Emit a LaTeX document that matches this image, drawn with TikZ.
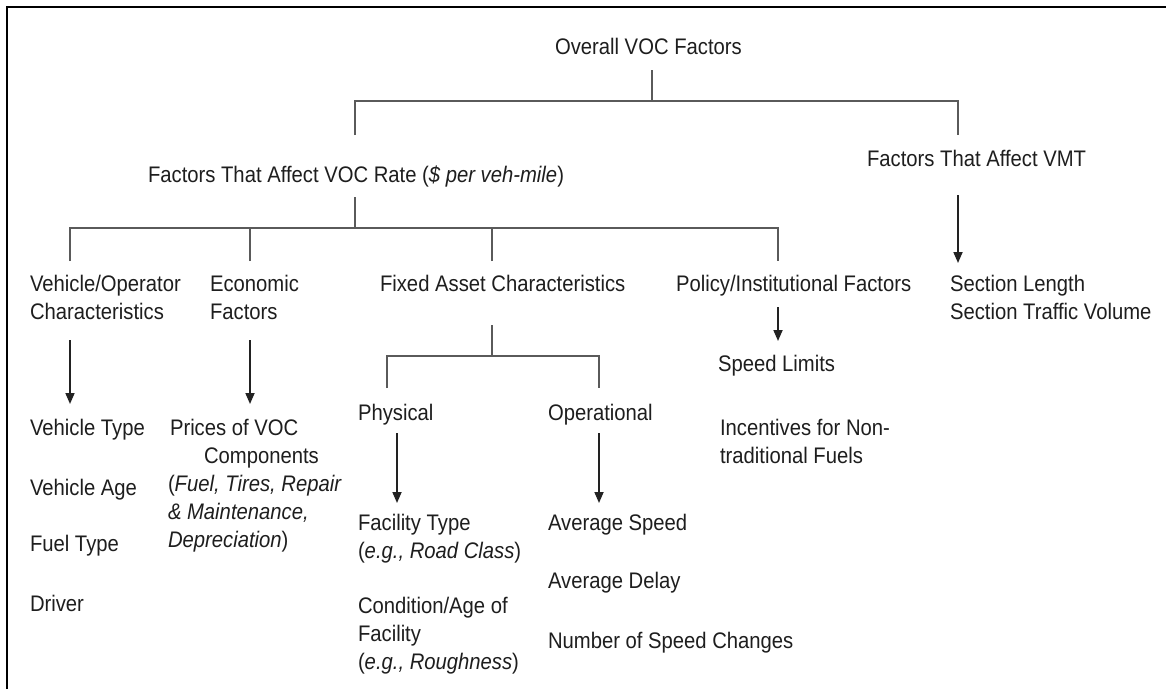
\documentclass[tikz,border=0pt]{standalone}
\usepackage{fontspec}
\setmainfont{Liberation Sans}[FakeStretch=0.9]
\usetikzlibrary{arrows.meta}
\definecolor{txt}{HTML}{1E1E1E}
\definecolor{treecol}{HTML}{5A5A5A}
\definecolor{arrcol}{HTML}{222222}
\begin{document}
\begin{tikzpicture}[x=1pt,y=-1pt,
  lbl/.style={anchor=north west,inner sep=0pt,outer sep=0pt,align=left,text=txt,
    font=\fontsize{22.5}{28}\selectfont},
  tree/.style={draw=treecol,line width=1.7pt},
  arr/.style={draw=arrcol,line width=1.7pt,-{Triangle[length=11pt,width=9pt]}},
  frame/.style={draw=black,line width=2.6pt}]
\useasboundingbox (0,0) rectangle (1166,689);
\fill[white] (0,0) rectangle (1166,689);
\draw[frame] (7,689) -- (7,7) -- (1166,7);

% labels
\node[lbl] (ovf) at (555,38) {Overall VOC Factors};
\node[lbl] (rate) at (148,166) {Factors That Affect VOC Rate (\textit{\$ per veh-mile})};
\node[lbl] (vmt) at (867,150) {Factors That Affect VMT};
\node[lbl] (vo) at (30,275) {Vehicle/Operator\\Characteristics};
\node[lbl] (eco) at (210,275) {Economic\\Factors};
\node[lbl] (fixed) at (380,275) {Fixed Asset Characteristics};
\node[lbl] (pol) at (676,275) {Policy/Institutional Factors};
\node[lbl] (sec) at (950,275) {Section Length\\Section Traffic Volume};

\node[lbl] (vtype) at (30,419) {Vehicle Type};
\node[lbl] (vage) at (30,479) {Vehicle Age};
\node[lbl] (ftype) at (30,535) {Fuel Type};
\node[lbl] (driver) at (30,595) {Driver};

\node[lbl] (prices) at (168,419) {\hspace*{2pt}Prices of VOC\\\hspace*{36pt}Components\\(\textit{Fuel, Tires, Repair}\\\textit{\& Maintenance,}\\\textit{Depreciation})};

\node[lbl] (phys) at (358,404) {Physical};
\node[lbl] (oper) at (548,404) {Operational};

\node[lbl] (factype) at (358,514) {Facility Type\\(\textit{e.g., Road Class})};
\node[lbl] (cond) at (358,597) {Condition/Age of\\Facility\\(\textit{e.g., Roughness})};

\node[lbl] (avgspd) at (548,514) {Average Speed};
\node[lbl] (avgdel) at (548,572) {Average Delay};
\node[lbl] (nspd) at (548,632) {Number of Speed Changes};

\node[lbl] (spdlim) at (718,355) {Speed Limits};
\node[lbl] (incent) at (720,419) {Incentives for Non-\\traditional Fuels};

% junction coordinates
\coordinate (c0) at (652,70);
\coordinate (c1) at (652,101);
\coordinate (c2) at (355,135);
\coordinate (c3) at (958,135);
\coordinate (c4) at (355,197);
\coordinate (c5) at (355,228);
\coordinate (d1) at (70,261);
\coordinate (d2) at (250,261);
\coordinate (d3) at (492,261);
\coordinate (d4) at (778,261);
\coordinate (e0) at (492,325);
\coordinate (e1) at (492,356);
\coordinate (e2) at (387,388);
\coordinate (e3) at (599,388);

% tree connectors
\draw[tree] (c0) -- (c1);
\draw[tree] (c2) |- (c1) -| (c3);
\draw[tree] (c4) -- (c5);
\draw[tree] (d1) |- (c5) -| (d4);
\draw[tree] (d2) -- (d2 |- c5);
\draw[tree] (d3) -- (d3 |- c5);
\draw[tree] (e0) -- (e1);
\draw[tree] (e2) |- (e1) -| (e3);

% arrows
\coordinate (a1s) at (958,195); \coordinate (a1e) at (958,263);
\coordinate (a2s) at (70,340);  \coordinate (a2e) at (70,404);
\coordinate (a3s) at (250,340); \coordinate (a3e) at (250,404);
\coordinate (a4s) at (778,307); \coordinate (a4e) at (778,341);
\coordinate (a5s) at (397,433); \coordinate (a5e) at (397,503);
\coordinate (a6s) at (599,433); \coordinate (a6e) at (599,503);
\draw[arr] (a1s) -- (a1e);
\draw[arr] (a2s) -- (a2e);
\draw[arr] (a3s) -- (a3e);
\draw[arr] (a4s) -- (a4e);
\draw[arr] (a5s) -- (a5e);
\draw[arr] (a6s) -- (a6e);
\end{tikzpicture}
\end{document}
